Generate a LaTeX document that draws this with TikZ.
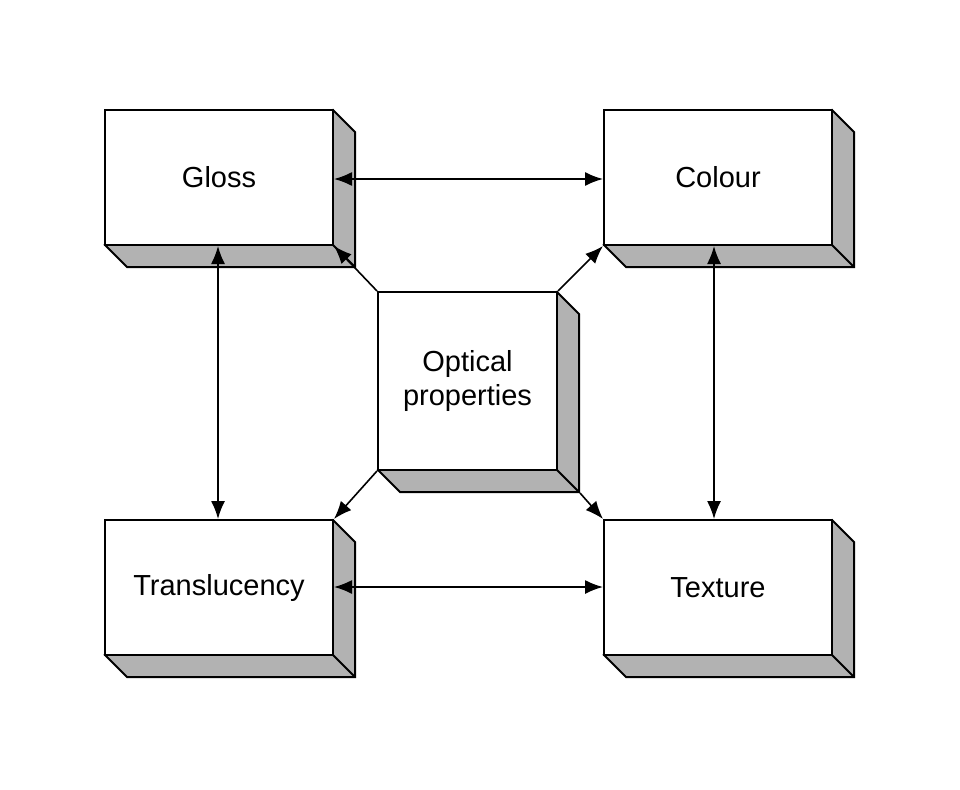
\documentclass[tikz,border=0pt]{standalone}
\usepackage{fontspec}
\setmainfont{Liberation Sans}
\usetikzlibrary{arrows.meta}
\begin{document}
\begin{tikzpicture}[x=1pt,y=-1pt,
  face/.style={draw,line width=2pt,fill=white,inner sep=0pt,font=\fontsize{29}{34}\selectfont,align=center},
  conn/.style={line width=1.6pt,{Latex[length=18pt,width=14pt]}-{Latex[length=18pt,width=14pt]}},
  conn1/.style={line width=1.6pt,-{Latex[length=18pt,width=14pt]}}]
\useasboundingbox (0,0) rectangle (960,789);
\newcommand{\mybox}[6]{% name, x1,y1,x2,y2,text
  \filldraw[fill=black!30,line width=2pt,line join=miter]
    (#4,#3) -- (#4+22,#3+22) -- (#4+22,#5+22) -- (#2+22,#5+22) -- (#2,#5) -- cycle;
  \draw[line width=2pt] (#4,#5) -- (#4+22,#5+22);
  \node[face,minimum width=#4-#2,minimum height=#5-#3] (#1) at ({(#2+#4)/2},{(#3+#5)/2}) {#6};
}
\mybox{g}{105}{110}{333}{245}{Gloss}
\mybox{c}{604}{110}{832}{245}{Colour}
\mybox{o}{378}{292}{557}{470}{Optical\\properties}
\mybox{t}{105}{520}{333}{655}{Translucency}
\mybox{x}{604}{520}{832}{655}{Texture}
\draw[conn] (g.east |- 0,179) -- (c.west |- 0,179);
\draw[conn] (t.east |- 0,587) -- (x.west |- 0,587);
\draw[conn] (g.south -| 218,0) -- (t.north -| 218,0);
\draw[conn] (c.south -| 714,0) -- (x.north -| 714,0);
\draw[conn1] (o.north west) -- (g.south east);
\draw[conn1] (o.north east) -- (c.south west);
\draw[conn1] (o.south west) -- (t.north east);
\coordinate (oc) at ([shift={(22,22)}]o.south east);
\draw[conn1] (oc) -- (x.north west);
\end{tikzpicture}
\end{document}
